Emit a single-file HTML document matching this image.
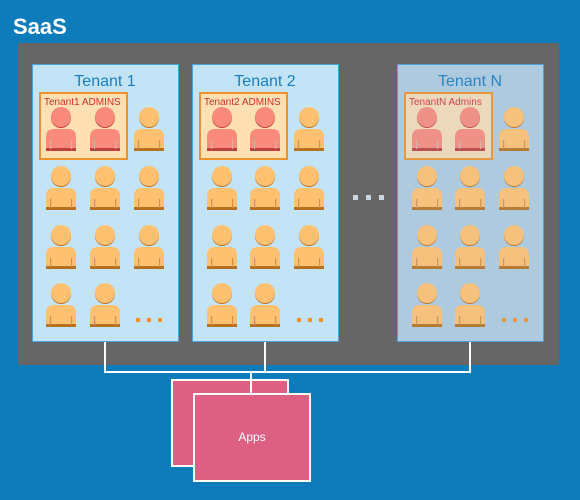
<!DOCTYPE html>
<html><head><style>
body{margin:0;background:#0e7bbb;width:580px;height:495px;overflow:hidden;font-family:"Liberation Sans",sans-serif}
</style></head><body>
<svg width="580" height="495" xmlns="http://www.w3.org/2000/svg" font-family="Liberation Sans, sans-serif">
<defs>
<g id="p">
<path d="M0,44 V30 Q0,22 8,22 H22 Q30,22 30,30 V44 Z" fill="#ffc070"/>
<rect x="0" y="41" width="30" height="3" fill="#b87020"/>
<rect x="4" y="33" width="1.2" height="9" fill="#d09050"/>
<rect x="25" y="33" width="1.2" height="9" fill="#d09050"/>
<circle cx="15" cy="11" r="10" fill="#c07020"/>
<circle cx="15" cy="10" r="10" fill="#ffc070"/>
</g>
<g id="a">
<path d="M0,44 V30 Q0,22 8,22 H22 Q30,22 30,30 V44 Z" fill="#f98a7c"/>
<rect x="0" y="41" width="30" height="3" fill="#c04040"/>
<rect x="4" y="33" width="1.2" height="9" fill="#d8b0a0"/>
<rect x="25" y="33" width="1.2" height="9" fill="#d8b0a0"/>
<circle cx="15" cy="11" r="10" fill="#c04040"/>
<circle cx="15" cy="10" r="10" fill="#f98a7c"/>
</g>
</defs>
<text x="13" y="34" fill="#fff" font-size="22" font-weight="bold">SaaS</text>
<rect x="18" y="43" width="541" height="322" fill="#666"/>
<g stroke="#fff" stroke-width="2" fill="none">
<path d="M105,341 V372 M265,341 V372 M470,341 V372 M104,372 H471 M251,372 V394"/>
</g>
<g>
<rect x="32.5" y="64.5" width="146" height="277" fill="#c3e4f6" stroke="#4aa3df"/>
<text x="105" y="86" text-anchor="middle" fill="#1a7ec0" font-size="16">Tenant 1</text>
<rect x="40" y="93" width="87" height="66" fill="#fee0b2" stroke="#f0922b" stroke-width="2"/>
<text x="44" y="105" fill="#d03030" font-size="10">Tenant1 ADMINS</text>
<use href="#a" x="46" y="107"/><use href="#a" x="90" y="107"/><use href="#p" x="134" y="107"/>
<use href="#p" x="46" y="166"/><use href="#p" x="90" y="166"/><use href="#p" x="134" y="166"/>
<use href="#p" x="46" y="225"/><use href="#p" x="90" y="225"/><use href="#p" x="134" y="225"/>
<use href="#p" x="46" y="283"/><use href="#p" x="90" y="283"/>
<g fill="#f0922b"><rect x="136" y="318" width="4" height="4"/><rect x="147" y="318" width="4" height="4"/><rect x="158" y="318" width="4" height="4"/></g>
</g>
<g>
<rect x="192.5" y="64.5" width="146" height="277" fill="#c3e4f6" stroke="#4aa3df"/>
<text x="265" y="86" text-anchor="middle" fill="#1a7ec0" font-size="16">Tenant 2</text>
<rect x="200" y="93" width="87" height="66" fill="#fee0b2" stroke="#f0922b" stroke-width="2"/>
<text x="204" y="105" fill="#d03030" font-size="10">Tenant2 ADMINS</text>
<use href="#a" x="207" y="107"/><use href="#a" x="250" y="107"/><use href="#p" x="294" y="107"/>
<use href="#p" x="207" y="166"/><use href="#p" x="250" y="166"/><use href="#p" x="294" y="166"/>
<use href="#p" x="207" y="225"/><use href="#p" x="250" y="225"/><use href="#p" x="294" y="225"/>
<use href="#p" x="207" y="283"/><use href="#p" x="250" y="283"/>
<g fill="#f0922b"><rect x="297" y="318" width="4" height="4"/><rect x="308" y="318" width="4" height="4"/><rect x="319" y="318" width="4" height="4"/></g>
</g>
<g fill="#c9d6e0"><rect x="353" y="195" width="5" height="5"/><rect x="366" y="195" width="5" height="5"/><rect x="379" y="195" width="5" height="5"/></g>
<g>
<rect x="397.5" y="64.5" width="146" height="277" fill="#adcadf" stroke="#4aa3df"/>
<g opacity="0.88">
<text x="470" y="86" text-anchor="middle" fill="#1a7ec0" font-size="16">Tenant N</text>
<rect x="405" y="93" width="87" height="66" fill="#f5dcb8" stroke="#f0922b" stroke-width="2"/>
<text x="409" y="105" fill="#d03030" font-size="10">TenantN Admins</text>
<use href="#a" x="412" y="107"/><use href="#a" x="455" y="107"/><use href="#p" x="499" y="107"/>
<use href="#p" x="412" y="166"/><use href="#p" x="455" y="166"/><use href="#p" x="499" y="166"/>
<use href="#p" x="412" y="225"/><use href="#p" x="455" y="225"/><use href="#p" x="499" y="225"/>
<use href="#p" x="412" y="283"/><use href="#p" x="455" y="283"/>
<g fill="#f0922b"><rect x="502" y="318" width="4" height="4"/><rect x="513" y="318" width="4" height="4"/><rect x="524" y="318" width="4" height="4"/></g>
</g>
</g>
<rect x="172" y="380" width="116" height="86" fill="#dd5f82" stroke="#fff" stroke-width="2"/>
<line x1="251" y1="379" x2="251" y2="394" stroke="#fff" stroke-width="2"/>
<rect x="194" y="394" width="116" height="87" fill="#dd5f82" stroke="#fff" stroke-width="2"/>
<text x="252" y="441" text-anchor="middle" fill="#fff" font-size="12">Apps</text>
</svg>
</body></html>
